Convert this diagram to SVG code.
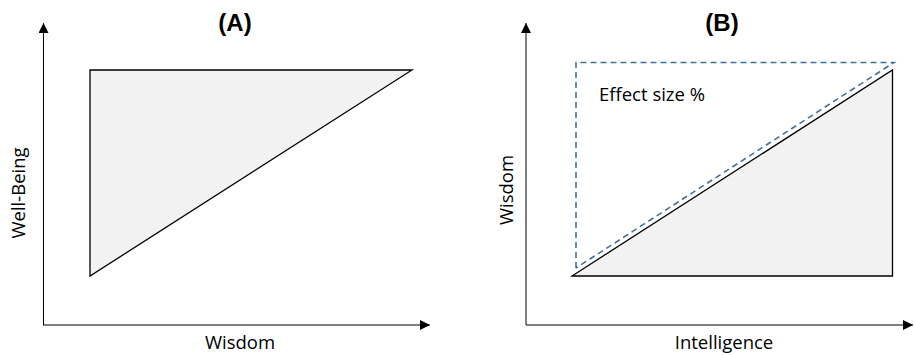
<svg xmlns="http://www.w3.org/2000/svg" width="914" height="355" viewBox="0 0 914 355">
<style>
.axis{stroke:#000;stroke-width:1;fill:none}
.tri{fill:#f2f2f2;stroke:#000;stroke-width:1.3}
.dash{fill:none;stroke:#41719c;stroke-width:1.6;stroke-dasharray:6 4}
.lbl{font-family:"Open Sans","Noto Sans",sans-serif;font-size:18.5px;fill:#000}
.title{font-family:"Liberation Sans",Arial,sans-serif;font-weight:bold;font-size:24px;fill:#000}
</style>
<defs>
<marker id="arr" viewBox="0 0 10 10" refX="10" refY="5" markerWidth="10" markerHeight="10" markerUnits="userSpaceOnUse" orient="auto">
<path d="M0,0 L10,5 L0,10 Z" fill="#000"/>
</marker>
</defs>
<g id="panelA">
<text class="title" x="235" y="31" text-anchor="middle">(A)</text>
<g id="connectors-A">
<line class="axis" x1="43.5" y1="325" x2="43.5" y2="23" marker-end="url(#arr)"/>
<line class="axis" x1="43" y1="325" x2="430" y2="325" marker-end="url(#arr)"/>
</g>
<g id="triA"><polygon class="tri" points="90,70 412,70 90,276"/></g>
<text class="lbl" x="240" y="349" text-anchor="middle">Wisdom</text>
<text class="lbl" transform="translate(25,193) rotate(-90)" text-anchor="middle">Well-Being</text>
</g>
<g id="panelB">
<text class="title" x="722" y="31" text-anchor="middle">(B)</text>
<g id="connectors-B">
<line class="axis" x1="526" y1="325" x2="526" y2="23" marker-end="url(#arr)"/>
<line class="axis" x1="526" y1="325" x2="913" y2="325" marker-end="url(#arr)"/>
</g>
<g id="triB"><polygon class="tri" points="572,276 892.5,276 892.5,70"/></g>
<g id="effect"><path class="dash" d="M576,268 L576,62.5 L894,62.5 L576,268"/></g>
<text class="lbl" x="599" y="101">Effect size %</text>
<text class="lbl" transform="translate(513,190) rotate(-90)" text-anchor="middle">Wisdom</text>
<text class="lbl" x="724" y="349" text-anchor="middle">Intelligence</text>
</g>
</svg>
